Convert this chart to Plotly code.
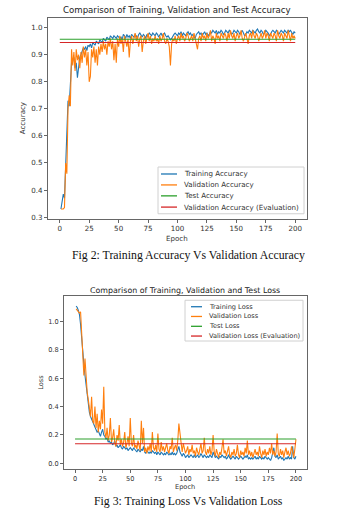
import plotly.graph_objects as go

epochs = list(range(1, 201))

train_acc = [
0.33,0.36,0.385,0.37,0.52,0.64,0.73,0.71,0.80,0.87,
0.88,0.89,0.85,0.87,0.815,0.86,0.89,0.90,0.91,0.925,
0.92,0.93,0.915,0.935,0.93,0.94,0.925,0.945,0.94,0.935,
0.95,0.945,0.94,0.955,0.95,0.945,0.96,0.955,0.95,0.965,
0.96,0.955,0.97,0.965,0.96,0.97,0.965,0.96,0.97,0.965,
0.96,0.965,0.955,0.975,0.97,0.96,0.975,0.965,0.97,0.96,
0.975,0.97,0.965,0.975,0.97,0.96,0.975,0.98,0.97,0.965,
0.975,0.97,0.96,0.975,0.97,0.98,0.975,0.97,0.98,0.975,
0.97,0.98,0.975,0.965,0.975,0.98,0.97,0.975,0.98,0.97,
0.965,0.97,0.96,0.955,0.96,0.97,0.975,0.98,0.975,0.97,
0.98,0.975,0.985,0.97,0.98,0.975,0.97,0.98,0.985,0.975,
0.98,0.97,0.975,0.965,0.96,0.975,0.98,0.985,0.975,0.98,
0.97,0.98,0.985,0.975,0.98,0.97,0.975,0.985,0.98,0.99,
0.985,0.98,0.99,0.975,0.985,0.98,0.99,0.985,0.975,0.98,
0.99,0.985,0.98,0.99,0.985,0.975,0.98,0.99,0.985,0.98,
0.99,0.985,0.975,0.985,0.99,0.98,0.97,0.975,0.985,0.98,
0.99,0.985,0.98,0.99,0.985,0.98,0.99,0.995,0.985,0.98,
0.99,0.985,0.975,0.98,0.99,0.985,0.98,0.97,0.975,0.985,
0.99,0.985,0.98,0.99,0.985,0.975,0.985,0.99,0.985,0.98,
0.99,0.985,0.98,0.99,0.985,0.99,0.98,0.975,0.985,0.98]

val_acc = [
0.33,0.33,0.33,0.335,0.50,0.46,0.70,0.75,0.71,0.92,
0.86,0.91,0.84,0.92,0.88,0.90,0.85,0.91,0.87,0.93,
0.89,0.92,0.86,0.91,0.80,0.82,0.92,0.89,0.93,0.87,
0.92,0.86,0.93,0.90,0.94,0.91,0.95,0.92,0.94,0.90,
0.95,0.93,0.96,0.92,0.95,0.88,0.94,0.87,0.96,0.93,
0.97,0.94,0.96,0.91,0.97,0.95,0.93,0.96,0.89,0.95,
0.97,0.94,0.96,0.98,0.95,0.97,0.93,0.96,0.97,0.91,
0.95,0.97,0.94,0.96,0.98,0.95,0.97,0.94,0.96,0.95,
0.97,0.95,0.96,0.94,0.97,0.95,0.96,0.98,0.95,0.94,
0.96,0.95,0.93,0.86,0.94,0.96,0.95,0.97,0.94,0.96,
0.97,0.95,0.98,0.96,0.97,0.95,0.96,0.98,0.97,0.95,
0.96,0.97,0.95,0.98,0.96,0.94,0.92,0.96,0.97,0.95,
0.98,0.96,0.97,0.95,0.98,0.96,0.97,0.99,0.95,0.97,
0.96,0.94,0.98,0.96,0.97,0.95,0.98,0.97,0.96,0.98,
0.97,0.95,0.98,0.96,0.99,0.97,0.96,0.98,0.95,0.97,
0.98,0.96,0.97,0.99,0.96,0.95,0.97,0.98,0.96,0.94,
0.97,0.98,0.96,0.99,0.97,0.96,0.98,0.97,0.95,0.97,
0.98,0.96,0.97,0.99,0.96,0.98,0.97,0.95,0.98,0.97,
0.96,0.98,0.97,0.95,0.99,0.97,0.96,0.98,0.97,0.95,
0.98,0.97,0.96,0.99,0.97,0.95,0.98,0.96,0.97,0.96]

train_loss = [
1.11,1.10,1.08,1.05,0.98,0.86,0.78,0.70,0.62,0.55,
0.48,0.42,0.36,0.33,0.31,0.30,0.27,0.25,0.24,0.22,
0.23,0.21,0.19,0.22,0.24,0.20,0.19,0.17,0.18,0.15,
0.16,0.14,0.15,0.13,0.14,0.16,0.12,0.13,0.11,0.12,
0.13,0.11,0.10,0.12,0.11,0.10,0.11,0.09,0.10,0.11,
0.10,0.09,0.11,0.10,0.09,0.08,0.10,0.09,0.08,0.10,
0.09,0.12,0.08,0.07,0.09,0.08,0.07,0.08,0.07,0.09,
0.08,0.07,0.08,0.06,0.08,0.07,0.06,0.08,0.07,0.06,
0.07,0.06,0.08,0.07,0.06,0.07,0.06,0.08,0.06,0.07,
0.06,0.07,0.09,0.12,0.08,0.06,0.05,0.07,0.06,0.04,
0.05,0.06,0.04,0.05,0.06,0.05,0.04,0.06,0.04,0.05,
0.06,0.04,0.05,0.07,0.05,0.04,0.06,0.05,0.04,0.05,
0.04,0.06,0.05,0.04,0.08,0.05,0.04,0.05,0.04,0.03,
0.05,0.04,0.06,0.05,0.04,0.05,0.03,0.04,0.06,0.04,
0.03,0.04,0.05,0.04,0.03,0.05,0.04,0.03,0.04,0.05,
0.04,0.03,0.04,0.05,0.04,0.06,0.03,0.04,0.03,0.04,
0.03,0.04,0.05,0.03,0.04,0.03,0.05,0.04,0.03,0.04,
0.03,0.05,0.04,0.03,0.04,0.03,0.02,0.04,0.08,0.11,
0.05,0.04,0.06,0.03,0.04,0.05,0.03,0.04,0.02,0.03,
0.04,0.03,0.05,0.03,0.04,0.03,0.12,0.04,0.03,0.05]

val_loss = [
1.09,1.08,1.07,1.06,1.07,0.88,0.75,0.62,0.74,0.58,
0.50,0.45,0.38,0.33,0.47,0.30,0.28,0.40,0.25,0.35,
0.22,0.30,0.24,0.38,0.28,0.54,0.22,0.18,0.25,0.16,
0.20,0.32,0.15,0.18,0.24,0.14,0.12,0.20,0.16,0.27,
0.13,0.17,0.12,0.15,0.22,0.11,0.14,0.19,0.12,0.32,
0.14,0.12,0.20,0.11,0.13,0.10,0.16,0.12,0.09,0.30,
0.14,0.25,0.08,0.11,0.07,0.12,0.09,0.14,0.08,0.22,
0.11,0.09,0.13,0.08,0.21,0.10,0.08,0.15,0.09,0.12,
0.08,0.11,0.14,0.09,0.07,0.12,0.10,0.18,0.08,0.11,
0.13,0.09,0.16,0.28,0.20,0.12,0.08,0.14,0.10,0.07,
0.09,0.12,0.06,0.10,0.08,0.13,0.07,0.09,0.05,0.11,
0.08,0.06,0.10,0.14,0.07,0.09,0.18,0.08,0.06,0.10,
0.07,0.12,0.06,0.09,0.20,0.08,0.05,0.10,0.07,0.04,
0.08,0.06,0.11,0.17,0.07,0.09,0.05,0.08,0.12,0.06,
0.04,0.08,0.06,0.10,0.05,0.07,0.13,0.06,0.04,0.09,
0.06,0.08,0.05,0.11,0.07,0.16,0.06,0.09,0.05,0.08,
0.04,0.07,0.10,0.06,0.08,0.05,0.12,0.07,0.04,0.09,
0.06,0.10,0.05,0.08,0.06,0.11,0.07,0.14,0.06,0.09,
0.05,0.08,0.21,0.07,0.05,0.10,0.06,0.09,0.04,0.08,
0.11,0.06,0.09,0.05,0.07,0.12,0.06,0.04,0.10,0.17]

test_acc = 0.957
eval_acc = 0.945
test_loss = 0.172
eval_loss = 0.138
hline_x = [0, 200]

acc_names = ["Training Accuracy", "Validation Accuracy", "Test Accuracy",
             "Validation Accuracy (Evaluation)"]
loss_names = ["Training Loss", "Validation Loss", "Test Loss",
              "Validation Loss (Evaluation)"]

x_ticks = [0, 25, 50, 75, 100, 125, 150, 175, 200]
acc_ticks = [0.3, 0.4, 0.5, 0.6, 0.7, 0.8, 0.9, 1.0]
loss_ticks = [0.0, 0.2, 0.4, 0.6, 0.8, 1.0]

COLORS = ["#1f77b4", "#ff7f0e", "#2ca02c", "#d62728"]
W, H = 337, 520


def px(x):
    return x / W


def py(y):
    return 1 - y / H


fig = go.Figure()
lw = 1.1
acc_series = [(epochs, train_acc), (epochs, val_acc),
              (hline_x, [test_acc] * 2), (hline_x, [eval_acc] * 2)]
loss_series = [(epochs, train_loss), (epochs, val_loss),
               (hline_x, [test_loss] * 2), (hline_x, [eval_loss] * 2)]
for (xs, ys), name, col in zip(acc_series, acc_names, COLORS):
    fig.add_trace(go.Scatter(x=xs, y=ys, mode="lines", name=name, showlegend=False,
                             line=dict(color=col, width=lw), xaxis="x", yaxis="y"))
for (xs, ys), name, col in zip(loss_series, loss_names, COLORS):
    fig.add_trace(go.Scatter(x=xs, y=ys, mode="lines", name=name, showlegend=False,
                             line=dict(color=col, width=lw), xaxis="x2", yaxis="y2"))


def axis_style(fs):
    return dict(showgrid=False, zeroline=False, showline=True, mirror=True,
                linecolor="#666", linewidth=1, ticks="outside", ticklen=3,
                tickcolor="#666", tickfont=dict(family="DejaVu Sans", size=fs, color="#333"))


fig.update_layout(
    width=W, height=H, margin=dict(l=0, r=0, t=0, b=0),
    paper_bgcolor="white", plot_bgcolor="white", showlegend=False,
    xaxis=dict(domain=[px(48), px(307)], range=[-10, 210], tickvals=x_ticks,
               anchor="y", **axis_style(7.1)),
    yaxis=dict(domain=[py(220), py(18)], range=[0.294, 1.036], tickvals=acc_ticks,
               ticktext=[f"{v:.1f}" for v in acc_ticks], anchor="x", **axis_style(7.1)),
    xaxis2=dict(domain=[px(64), px(307)], range=[-10, 210], tickvals=x_ticks,
                anchor="y2", **axis_style(6.6)),
    yaxis2=dict(domain=[py(472), py(298)], range=[-0.042, 1.179], tickvals=loss_ticks,
                ticktext=[f"{v:.1f}" for v in loss_ticks], anchor="x2", **axis_style(6.6)),
)

shapes = []
annotations = []


def add_legend(box, line_x, text_x, rows, names, fs):
    x0, y0, x1, y1 = box
    shapes.append(dict(type="rect", xref="paper", yref="paper",
                       x0=px(x0), x1=px(x1), y0=py(y1), y1=py(y0),
                       line=dict(color="#d0d0d0", width=1),
                       fillcolor="rgba(255,255,255,0.85)", layer="above"))
    for name, col, ry in zip(names, COLORS, rows):
        shapes.append(dict(type="line", xref="paper", yref="paper",
                           x0=px(line_x[0]), x1=px(line_x[1]), y0=py(ry), y1=py(ry),
                           line=dict(color=col, width=1.3), layer="above"))
        annotations.append(dict(text=name, x=px(text_x), y=py(ry), xanchor="left",
                                yanchor="middle",
                                font=dict(family="DejaVu Sans", size=fs, color="#333")))


add_legend((158, 168, 304, 215), (161, 177), 181.5, [175, 186, 197, 208.3], acc_names, 7.1)
add_legend((185, 302, 303, 343), (191, 202), 206.5, [308.5, 318.3, 328.2, 338], loss_names, 6.6)

cap_font = dict(family="Liberation Serif", size=11.8, color="#111")
texts = [
    ("Comparison of Training, Validation and Test Accuracy", 177, 10, 0,
     dict(family="DejaVu Sans", size=8.6, color="#222")),
    ("Accuracy", 22, 119, -90, dict(family="DejaVu Sans", size=7.1, color="#333")),
    ("Epoch", 177, 240, 0, dict(family="DejaVu Sans", size=7.1, color="#333")),
    ("Fig 2: Training Accuracy Vs Validation Accuracy", 188, 256, 0, cap_font),
    ("Comparison of Training, Validation and Test Loss", 185, 292, 0,
     dict(family="DejaVu Sans", size=7.9, color="#222")),
    ("Loss", 41, 385, -90, dict(family="DejaVu Sans", size=6.6, color="#333")),
    ("Epoch", 185, 489.5, 0, dict(family="DejaVu Sans", size=6.6, color="#333")),
    ("Fig 3: Training Loss Vs Validation Loss", 188, 504, 0, cap_font),
]
for t, x, y, ang, f in texts:
    annotations.append(dict(text=t, x=px(x), y=py(y), textangle=ang, font=f,
                            xanchor="center", yanchor="middle"))
for a in annotations:
    a.update(xref="paper", yref="paper", showarrow=False)

fig.update_layout(shapes=shapes, annotations=annotations)
fig.write_html("out.html")
